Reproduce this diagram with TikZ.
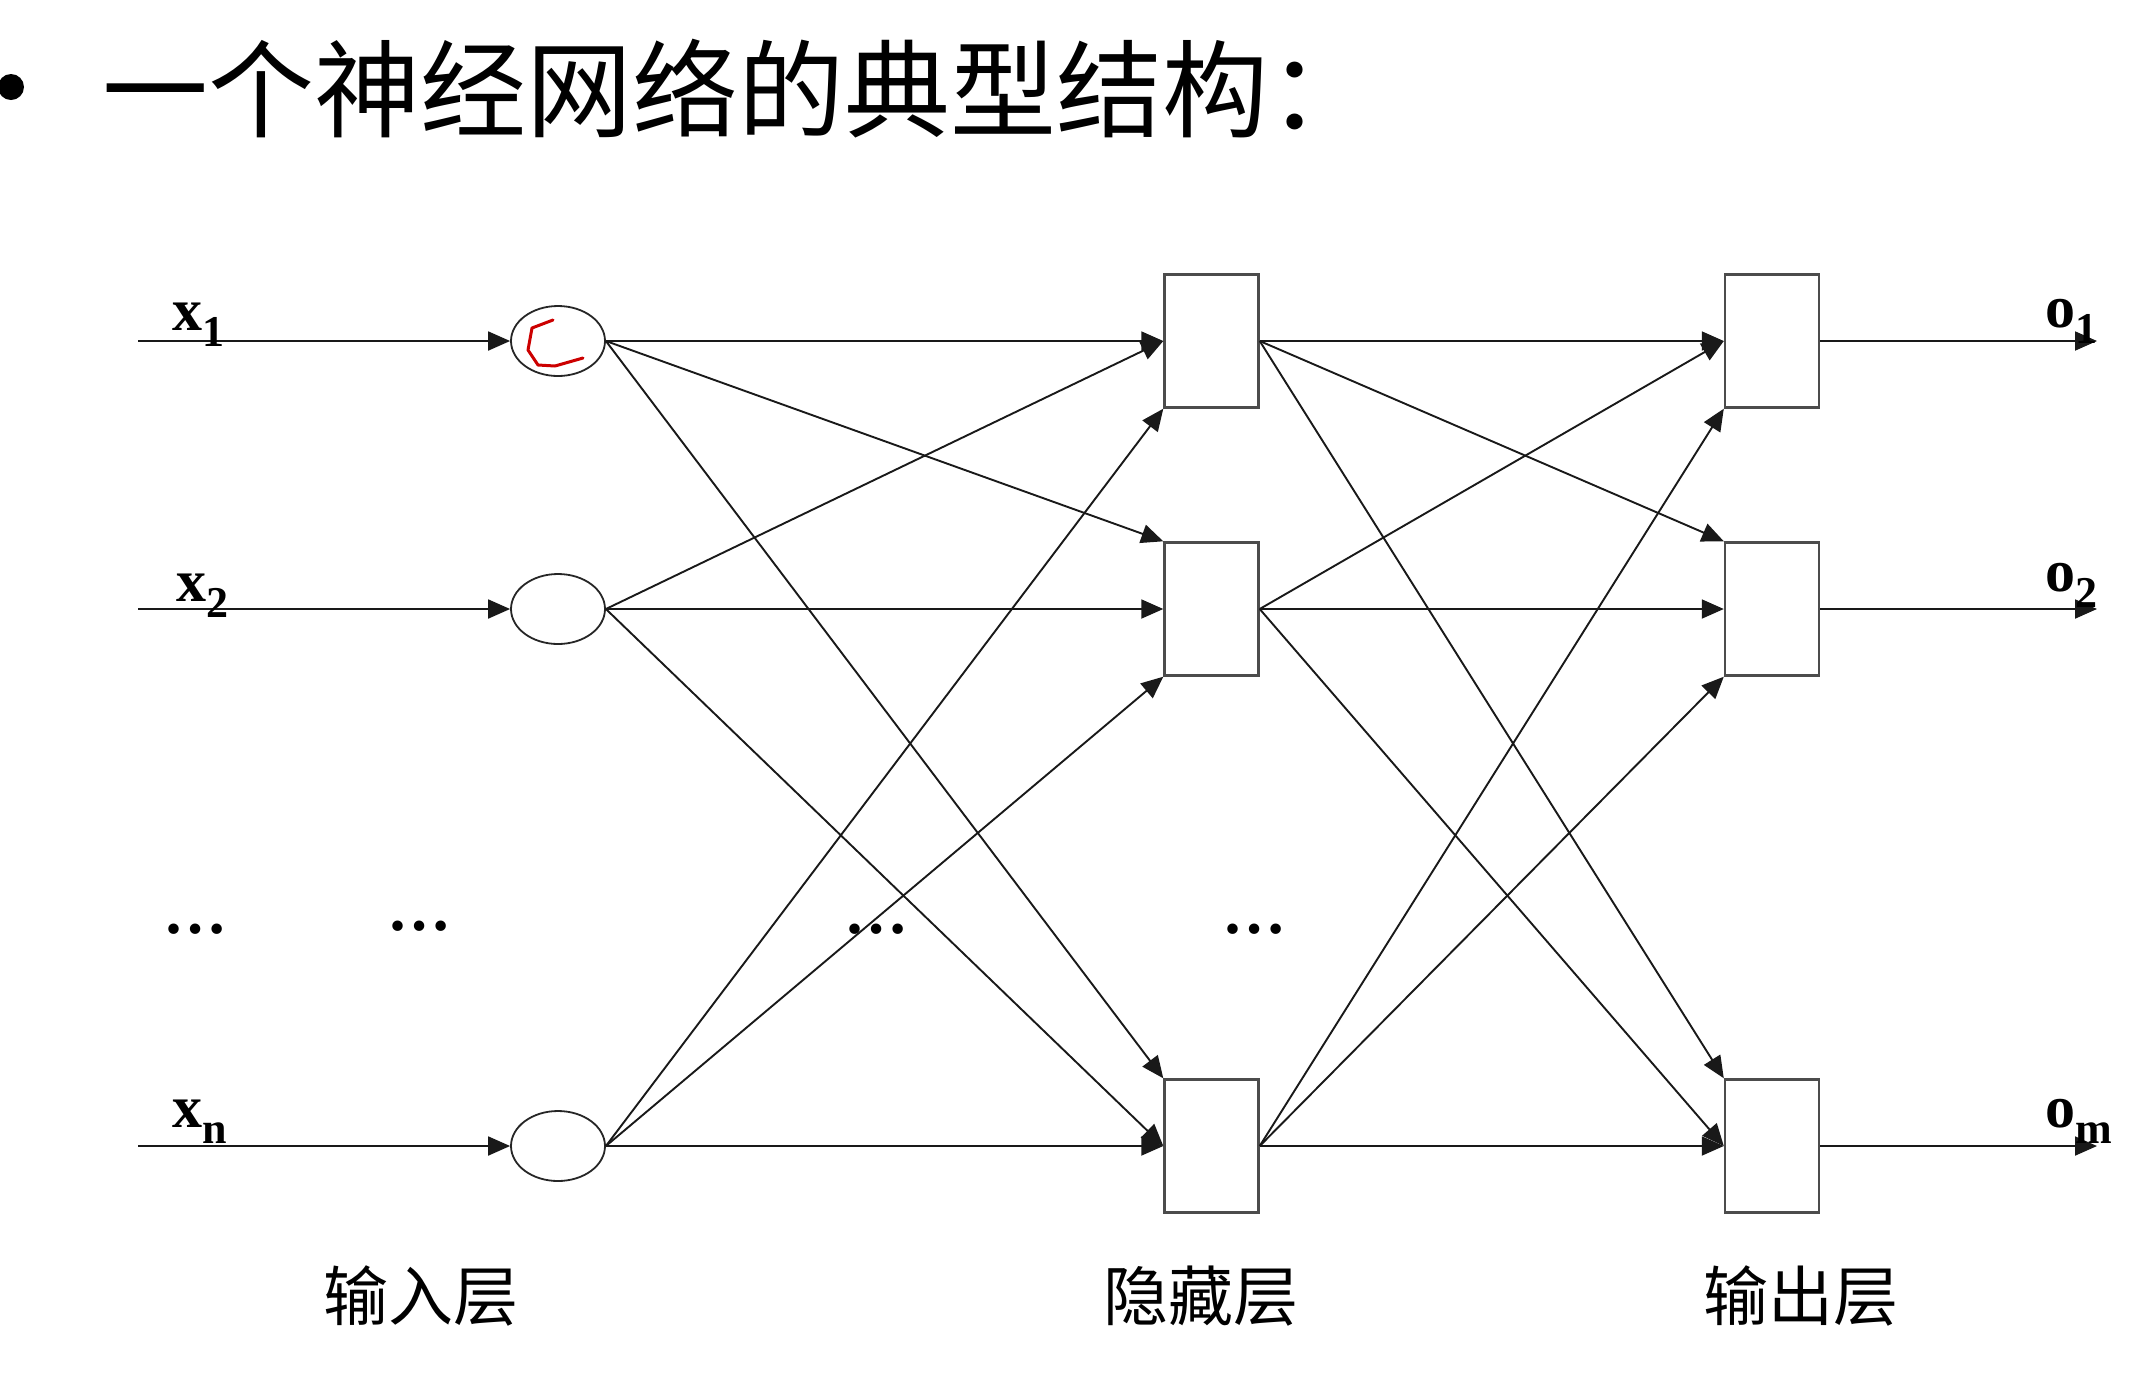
\documentclass[tikz,border=0pt]{standalone}
\usepackage{fontspec}
\setmainfont{Liberation Serif}
\newfontfamily\cjk{Noto Sans CJK SC}
\usetikzlibrary{arrows.meta,shapes.geometric}
\newcommand\lsub[1]{\raisebox{-8pt}{\fontsize{22}{22}\selectfont #1}}
\begin{document}
\begin{tikzpicture}[x=0.5pt,y=-0.5pt,
  neuron/.style={ellipse,draw=black!85,line width=0.9pt,minimum width=47pt,minimum height=35pt,inner sep=0pt},
  unitbox/.style={rectangle,draw=black!70,line width=1.2pt,minimum width=47pt,minimum height=66.5pt,inner sep=0pt},
  conn/.style={line width=0.95pt,draw=black!90,-{Triangle[length=11pt,width=9.5pt]}},
  lab/.style={font=\fontsize{30}{30}\selectfont\bfseries,inner sep=0pt,anchor=base west},
  dotlab/.style={font=\fontsize{32}{32}\selectfont\bfseries,inner sep=0pt},
  layerlab/.style={font=\cjk\fontsize{32.5}{32.5}\selectfont,inner sep=0pt,anchor=base}]
\useasboundingbox (0,0) rectangle (2142,1372);
% title
\node[circle,fill=black,inner sep=0pt,minimum size=13pt] (bullet) at (11,87) {};
\node[font=\cjk\fontsize{53}{53}\selectfont,inner sep=0pt,anchor=base west] (title) at (102,129) {一个神经网络的典型结构：};
% input start coordinates
\coordinate (s1) at (138,341);
\coordinate (s2) at (138,609);
\coordinate (sn) at (138,1146);
% input neurons
\node[neuron] (i1) at (558,341) {};
\node[neuron] (i2) at (558,609) {};
\node[neuron] (in) at (558,1146) {};
% hidden
\node[unitbox] (h1) at (1211.5,341) {};
\node[unitbox] (h2) at (1211.5,609) {};
\node[unitbox] (hn) at (1211.5,1146) {};
% output
\node[unitbox] (o1) at (1772,341) {};
\node[unitbox] (o2) at (1772,609) {};
\node[unitbox] (om) at (1772,1146) {};
% output end coordinates
\coordinate (e1) at (2097,341);
\coordinate (e2) at (2097,609);
\coordinate (em) at (2097,1146);
% input arrows
\draw[conn] (s1) -- (i1.west);
\draw[conn] (s2) -- (i2.west);
\draw[conn] (sn) -- (in.west);
% input -> hidden
\foreach \s/\t/\a in {i1/h1/west, i1/h2/north west, i1/hn/north west,
                      i2/h1/west, i2/h2/west, i2/hn/west,
                      in/h1/south west, in/h2/south west, in/hn/west}
  \draw[conn] (\s.east) -- (\t.\a);
% hidden -> output
\foreach \s/\t/\a in {h1/o1/west, h1/o2/north west, h1/om/north west,
                      h2/o1/west, h2/o2/west, h2/om/west,
                      hn/o1/south west, hn/o2/south west, hn/om/west}
  \draw[conn] (\s.east) -- (\t.\a);
% output arrows
\draw[conn] (o1.east) -- (e1);
\draw[conn] (o2.east) -- (e2);
\draw[conn] (om.east) -- (em);
% labels
\node[lab] (lx1) at (172,330) {x\lsub{1}};
\node[lab] (lx2) at (176,601) {x\lsub{2}};
\node[lab] (lxn) at (172,1127) {x\lsub{n}};
\node[lab] (lo1) at (2045,327) {o\lsub{1}};
\node[lab] (lo2) at (2045,591) {o\lsub{2}};
\node[lab] (lom) at (2045,1127) {o\lsub{m}};
% dots
\node[dotlab] (d1) at (195,929) {…};
\node[dotlab] (d2) at (419,926) {…};
\node[dotlab] (d3) at (876,929) {…};
\node[dotlab] (d4) at (1254,929) {…};
% layer labels
\node[layerlab] (L1) at (421,1320) {输入层};
\node[layerlab] (L2) at (1201,1320) {隐藏层};
\node[layerlab] (L3) at (1801,1320) {输出层};
% red annotation
\draw[red!80!black,line width=1.5pt,line join=round,line cap=round]
  (553,320) -- (532,328) -- (528,350) -- (538,365) -- (555,366) -- (583,358);
\end{tikzpicture}
\end{document}
